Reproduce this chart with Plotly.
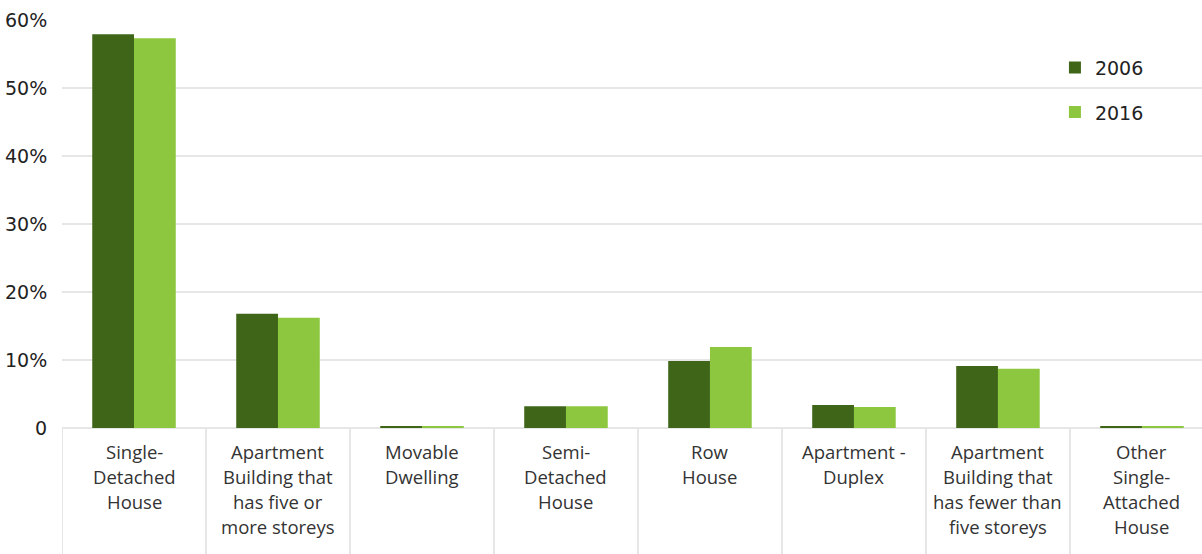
import plotly.graph_objects as go

# Dwelling types (category labels with manual line breaks)
categories = [
    "Single-<br>Detached<br>House",
    "Apartment<br>Building that<br>has five or<br>more storeys",
    "Movable<br>Dwelling",
    "Semi-<br>Detached<br>House",
    "Row<br>House",
    "Apartment -<br>Duplex",
    "Apartment<br>Building that<br>has fewer than<br>five storeys",
    "Other<br>Single-<br>Attached<br>House",
]

# Share of dwellings (%)
share_2006 = [57.9, 16.8, 0.2, 3.2, 9.85, 3.4, 9.1, 0.2]
share_2016 = [57.3, 16.2, 0.2, 3.2, 11.9, 3.1, 8.7, 0.2]

y_tick_vals = [0, 10, 20, 30, 40, 50, 60]
y_tick_text = ["0", "10%", "20%", "30%", "40%", "50%", "60%"]

DARK = "#3F6618"
LIGHT = "#8DC63F"
GRID = "#E6E6E6"

idx = list(range(len(categories)))

fig = go.Figure()
fig.add_trace(go.Bar(x=idx, y=share_2006, name="2006", marker_color=DARK,
                     marker_line_width=0, legendgroup="a"))
fig.add_trace(go.Bar(x=idx, y=share_2016, name="2016", marker_color=LIGHT,
                     marker_line_width=0, legendgroup="b"))

# Category labels under the axis, one annotation per line for even spacing
LINE_STEP = 25
for i, label in enumerate(categories):
    for k, line in enumerate(label.split("<br>")):
        fig.add_annotation(
            x=i, y=0, xref="x", yref="paper", text=line, showarrow=False,
            xanchor="center", yanchor="middle", yshift=-(23 + LINE_STEP * k),
            font=dict(family="Open Sans", size=18.5, color="#333333"),
        )

# Vertical separators between category cells
for i in range(len(categories) + 1):
    fig.add_shape(
        type="line", xref="x", yref="paper",
        x0=i - 0.5, x1=i - 0.5, y0=0, y1=-0.32,
        line=dict(color=GRID, width=2), layer="below",
    )

fig.update_layout(
    width=1202, height=554,
    margin=dict(l=62, r=0, t=20, b=126),
    paper_bgcolor="white", plot_bgcolor="white",
    barmode="group", bargap=0.42, bargroupgap=0,
    showlegend=True,
    legend=dict(
        x=0.871, y=0.930, xanchor="left", yanchor="top",
        font=dict(family="DejaVu Sans", size=19, color="#222222"),
        tracegroupgap=17, bgcolor="rgba(0,0,0,0)",
    ),
    xaxis=dict(
        range=[-0.5, 7.417], showticklabels=False, showgrid=False,
        zeroline=False, showline=False, ticks="", fixedrange=True,
    ),
    yaxis=dict(
        range=[0, 60], tickvals=y_tick_vals, ticktext=y_tick_text,
        showgrid=True, gridcolor=GRID, gridwidth=2,
        zeroline=True, zerolinecolor=GRID, zerolinewidth=2,
        showline=False, ticks="outside", ticklen=10,
        tickcolor="rgba(0,0,0,0)",
        tickfont=dict(family="DejaVu Sans", size=19, color="#222222"),
    ),
)

fig.write_html("out.html")
